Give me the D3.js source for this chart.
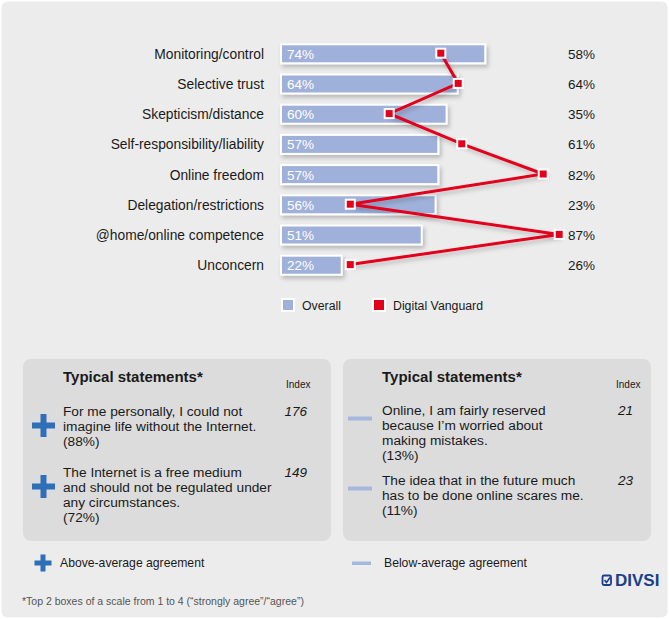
<!DOCTYPE html>
<html>
<head>
<meta charset="utf-8">
<script src="https://cdn.jsdelivr.net/npm/d3@7"></script>
<style>
  body { margin: 0; background: #fff; }
  svg { display: block; font-family: "Liberation Sans", Arial, sans-serif; }
</style>
</head>
<body>
<script>
// chart data
const categories = ["Monitoring/control", "Selective trust", "Skepticism/distance",
    "Self-responsibility/liability", "Online freedom", "Delegation/restrictions",
    "@home/online competence", "Unconcern"];
const overall = [74, 64, 60, 57, 57, 56, 51, 22];
const vanguard = [58, 64, 35, 61, 82, 23, 87, 26];
// where the red markers sit in the picture, read on the bar scale
const vanguardDrawn = [57.9, 64.2, 39.2, 65.5, 95, 25.1, 100.8, 25.1];

// statement boxes
const aboveStatements = [
    ["For me personally, I could not", "imagine life without the Internet.", "(88%)"],
    ["The Internet is a free medium", "and should not be regulated under", "any circumstances.", "(72%)"]
];
const aboveIndex = [176, 149];
const belowStatements = [
    ["Online, I am fairly reserved", "because I\u2019m worried about", "making mistakes.", "(13%)"],
    ["The idea that in the future much", "has to be done online scares me.", "(11%)"]
];
const belowIndex = [21, 23];

const width = 669;
const height = 619;
const blue = "#9fb1da";
const red = "#e2001a";
const plusBlue = "#2f6fb8";

const svg = d3.select("body").append("svg")
    .attr("width", width)
    .attr("height", height);

// shadow filter for the bars
const defs = svg.append("defs");
const shadow = defs.append("filter").attr("id", "shadow")
    .attr("x", "-10%").attr("y", "-30%").attr("width", "130%").attr("height", "180%");
shadow.append("feDropShadow")
    .attr("dx", 2).attr("dy", 3).attr("stdDeviation", 2)
    .attr("flood-color", "#000").attr("flood-opacity", 0.22);

// background panel
svg.append("rect")
    .attr("x", 1.5).attr("y", 1.5)
    .attr("width", width - 3).attr("height", height - 3)
    .attr("rx", 6)
    .attr("fill", "#ececec");

// scales
const x = d3.scaleLinear().domain([0, 100]).range([281, 557]);
const y = d3.scalePoint().domain(categories).range([53.8, 265.2]);
const barH = 19;

// category labels
svg.append("g").selectAll("text")
    .data(categories)
    .join("text")
    .attr("x", 264)
    .attr("y", d => y(d) + 5)
    .attr("text-anchor", "end")
    .style("font-size", "13.8px")
    .attr("fill", "#1a1a1a")
    .text(d => d);

// bars
svg.append("g").selectAll("rect")
    .data(overall)
    .join("rect")
    .attr("x", x(0))
    .attr("y", (d, i) => y(categories[i]) - barH / 2)
    .attr("width", d => x(d) - x(0))
    .attr("height", barH)
    .attr("fill", blue)
    .attr("stroke", "#fff")
    .attr("stroke-width", 2)
    .attr("filter", "url(#shadow)");

// bar value labels
svg.append("g").selectAll("text")
    .data(overall)
    .join("text")
    .attr("x", x(0) + 6)
    .attr("y", (d, i) => y(categories[i]) + 5)
    .style("font-size", "13.5px")
    .attr("fill", "#fff")
    .text(d => d + "%");

// red line
const pts = vanguardDrawn.map((v, i) => [x(v), y(categories[i]) - 0.6]);
svg.append("path")
    .attr("d", d3.line()(pts))
    .attr("fill", "none")
    .attr("stroke", red)
    .attr("stroke-width", 3)
    .attr("stroke-linejoin", "miter")
    .attr("filter", "url(#shadow)");

svg.append("g").selectAll("rect")
    .data(pts)
    .join("rect")
    .attr("x", d => d[0] - 4.5)
    .attr("y", d => d[1] - 4.5)
    .attr("width", 9)
    .attr("height", 9)
    .attr("fill", red)
    .attr("stroke", "#fff")
    .attr("stroke-width", 2);

// vanguard values
svg.append("g").selectAll("text")
    .data(vanguard)
    .join("text")
    .attr("x", 568)
    .attr("y", (d, i) => y(categories[i]) + 5)
    .style("font-size", "13.5px")
    .attr("fill", "#1a1a1a")
    .text(d => d + "%");

// chart legend
const legend = svg.append("g");
[["Overall", blue, 281], ["Digital Vanguard", red, 372]].forEach(([label, col, lx]) => {
    legend.append("rect")
        .attr("x", lx + 1).attr("y", 299)
        .attr("width", 12).attr("height", 12)
        .attr("fill", col)
        .attr("stroke", "#fff").attr("stroke-width", 2);
    legend.append("text")
        .attr("x", lx + 21).attr("y", 309.5)
        .style("font-size", "12.3px")
        .attr("fill", "#1a1a1a")
        .text(label);
});

// statement boxes
function drawPlus(g, cx, cy, size, thick) {
    g.append("rect").attr("x", cx - size / 2).attr("y", cy - thick / 2)
        .attr("width", size).attr("height", thick).attr("fill", plusBlue);
    g.append("rect").attr("x", cx - thick / 2).attr("y", cy - size / 2)
        .attr("width", thick).attr("height", size).attr("fill", plusBlue);
}
function drawDash(g, cx, cy) {
    g.append("rect").attr("x", cx - 12).attr("y", cy - 2)
        .attr("width", 24).attr("height", 4).attr("fill", "#a6b6de");
}

function drawBox(bx, tx, labelX, idxX, statements, index, above, startYs) {
    const g = svg.append("g");
    g.append("rect")
        .attr("x", bx).attr("y", 359)
        .attr("width", 308).attr("height", 182)
        .attr("rx", 8)
        .attr("fill", "#dcdcdc");
    g.append("text")
        .attr("x", tx).attr("y", 382)
        .style("font-size", "15px").style("font-weight", "bold")
        .attr("fill", "#1a1a1a")
        .text("Typical statements*");
    g.append("text")
        .attr("x", labelX).attr("y", 388)
        .style("font-size", "10px")
        .attr("fill", "#1a1a1a")
        .text("Index");
    statements.forEach((lines, i) => {
        const sy = startYs[i];
        g.append("text")
            .attr("x", tx)
            .attr("y", sy)
            .style("font-size", "13.7px")
            .attr("fill", "#1a1a1a")
            .selectAll("tspan")
            .data(lines)
            .join("tspan")
            .attr("x", tx)
            .attr("dy", (d, j) => j === 0 ? 0 : 15)
            .text(d => d);
        g.append("text")
            .attr("x", idxX)
            .attr("y", sy)
            .attr("text-anchor", "end")
            .style("font-size", "13.5px").style("font-style", "italic")
            .attr("fill", "#1a1a1a")
            .text(index[i]);
        if (above) drawPlus(g, bx + 20.5, sy + 10, 23, 6);
        else drawDash(g, bx + 17, sy + 4);
    });
}

drawBox(23, 63, 286, 307, aboveStatements, aboveIndex, true, [415.5, 476.5]);
drawBox(343, 382, 616, 633, belowStatements, belowIndex, false, [414.5, 484.5]);

// bottom legend
const bl = svg.append("g");
drawPlus(bl, 43, 563, 17, 5);
bl.append("text").attr("x", 60).attr("y", 566.5)
    .style("font-size", "12.2px").attr("fill", "#1a1a1a")
    .text("Above-average agreement");
bl.append("rect").attr("x", 352).attr("y", 561.5)
    .attr("width", 19).attr("height", 3.5).attr("fill", "#a6b6de");
bl.append("text").attr("x", 384).attr("y", 566.5)
    .style("font-size", "12.2px").attr("fill", "#1a1a1a")
    .text("Below-average agreement");

// footnote
svg.append("text")
    .attr("x", 22).attr("y", 605)
    .style("font-size", "10.5px")
    .attr("fill", "#555")
    .text("*Top 2 boxes of a scale from 1 to 4 (\u201cstrongly agree\u201d/\u201cagree\u201d)");

// DIVSI logo
const logo = svg.append("g").attr("fill", "#1b3f8b");
logo.append("rect")
    .attr("x", 602.5).attr("y", 575.5).attr("width", 8.5).attr("height", 9.5)
    .attr("rx", 1.5)
    .attr("fill", "none").attr("stroke", "#1b3f8b").attr("stroke-width", 1.8);
logo.append("path")
    .attr("d", "M604.5,580 L606.5,582.5 L610,577.5")
    .attr("fill", "none").attr("stroke", "#1b3f8b").attr("stroke-width", 1.6);
logo.append("text")
    .attr("x", 615).attr("y", 586)
    .style("font-size", "17px").style("font-weight", "bold")
    .text("DIVSI");
</script>
</body>
</html>
